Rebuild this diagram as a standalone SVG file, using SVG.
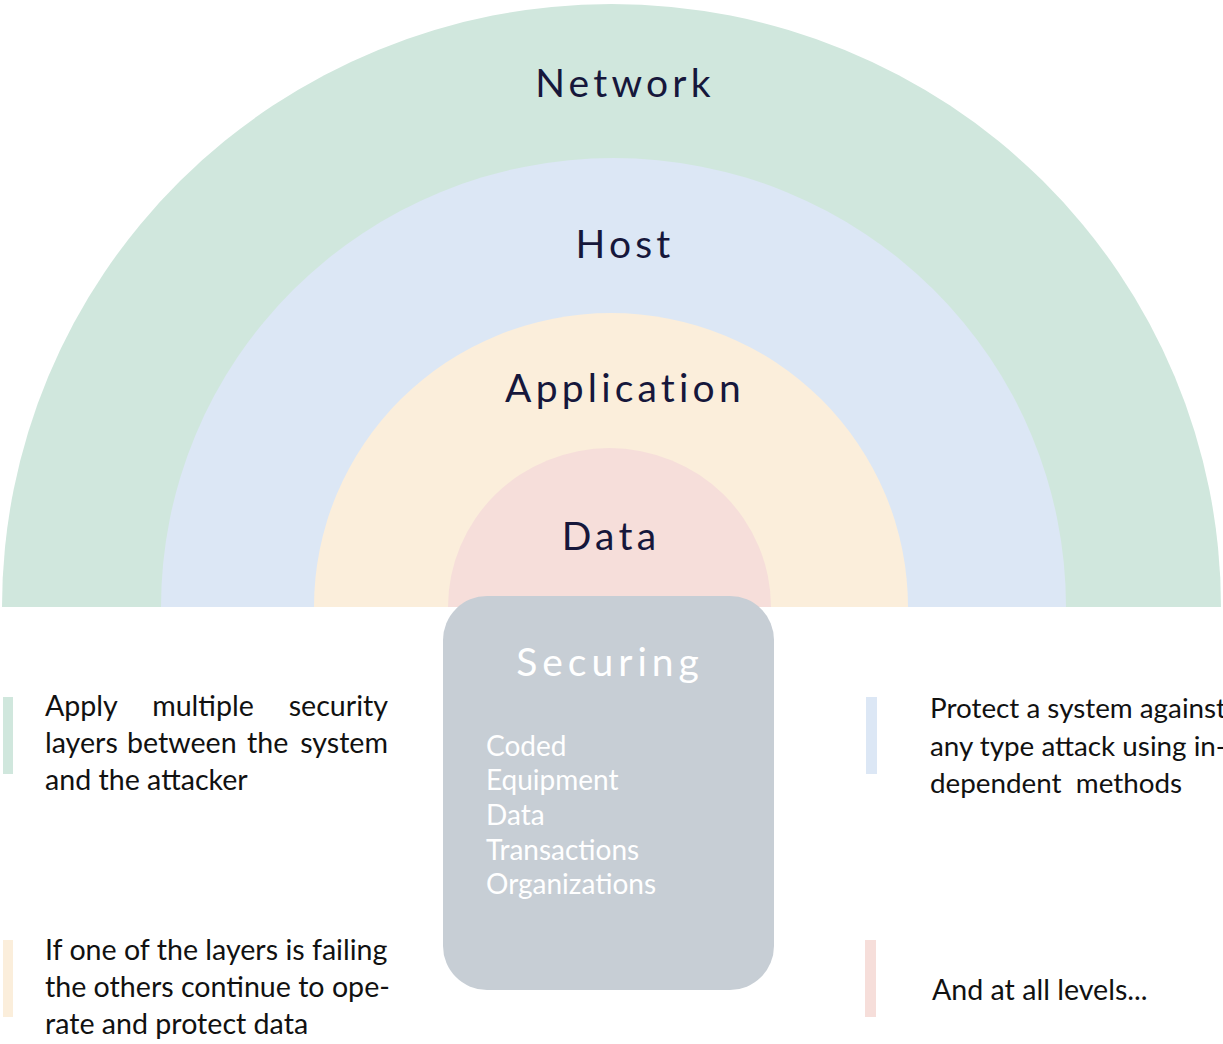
<svg xmlns="http://www.w3.org/2000/svg" width="1223" height="1044" viewBox="0 0 1223 1044">
  <style>
    .layer-label { font-family: Lato, "Open Sans", sans-serif; font-size: 39px; fill: #16173b; letter-spacing: 4.2px; text-anchor: middle; }
    .body { font-family: Lato, "Open Sans", sans-serif; font-size: 28.6px; fill: #111111; }
    .body-r { font-size: 27.8px; }
    .box-title { font-family: Lato, "Open Sans", sans-serif; font-size: 39px; fill: #ffffff; letter-spacing: 5px; text-anchor: middle; }
    .box-item { font-family: Lato, "Open Sans", sans-serif; font-size: 28px; fill: #ffffff; }
  </style>
  <rect width="1223" height="1044" fill="#ffffff"/>

  <!-- concentric half rings -->
  <g id="network">
    <path d="M2,607 A609.5,603 0 0 1 1221,607 Z" fill="#d0e7dd"/>
    <text class="layer-label" x="625" y="97">Network</text>
  </g>
  <g id="host">
    <path d="M161,607 A452.5,449 0 0 1 1066,607 Z" fill="#dce7f5"/>
    <text class="layer-label" x="625" y="258">Host</text>
  </g>
  <g id="application">
    <path d="M314,607 A297,294 0 0 1 908,607 Z" fill="#fbeedb"/>
    <text class="layer-label" x="625" y="402">Application</text>
  </g>
  <g id="data">
    <path d="M448,607 A161.5,159 0 0 1 771,607 Z" fill="#f6deda"/>
    <text class="layer-label" x="611" y="550">Data</text>
  </g>

  <!-- central box -->
  <g id="securing">
    <rect x="443" y="596" width="331" height="394" rx="44" fill="#c7ced5"/>
    <text class="box-title" x="610" y="676">Securing</text>
    <text class="box-item" x="486" y="756">Coded</text>
    <text class="box-item" x="486" y="790">Equipment</text>
    <text class="box-item" x="486" y="825">Data</text>
    <text class="box-item" x="486" y="860">Transactions</text>
    <text class="box-item" x="486" y="894">Organizations</text>
  </g>

  <!-- side notes (first two lines justified word by word) -->
  <g id="note-layers">
    <rect x="3" y="697" width="10" height="77" fill="#d0e7dd"/>
    <text class="body" x="45" y="716">Apply</text>
    <text class="body" x="203" y="716" text-anchor="middle">multiple</text>
    <text class="body" x="388" y="716" text-anchor="end">security</text>
    <text class="body" x="45" y="753">layers</text>
    <text class="body" x="127" y="753">between</text>
    <text class="body" x="247" y="753">the</text>
    <text class="body" x="388" y="753" text-anchor="end">system</text>
    <text class="body" x="45" y="790">and the attacker</text>
  </g>
  <g id="note-failing">
    <rect x="3" y="940" width="10" height="77" fill="#fbeedb"/>
    <text class="body" x="45" y="960">If one of the layers is failing</text>
    <text class="body" x="45" y="997">the others continue to ope-</text>
    <text class="body" x="45" y="1034">rate and protect data</text>
  </g>
  <g id="note-protect">
    <rect x="866" y="697" width="11" height="77" fill="#dce7f5"/>
    <text class="body body-r" x="930" y="718">Protect a system against</text>
    <text class="body body-r" x="930" y="756">any type attack using in-</text>
    <text class="body body-r" x="930" y="793" xml:space="preserve">dependent  methods</text>
  </g>
  <g id="note-levels">
    <rect x="865" y="940" width="11" height="77" fill="#f6deda"/>
    <text class="body" x="932" y="1000">And at all levels...</text>
  </g>

  <g id="connectors"/>
</svg>
